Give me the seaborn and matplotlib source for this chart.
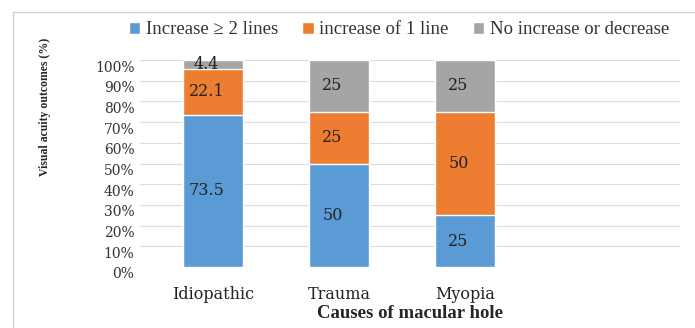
import numpy as np
import pandas as pd
import seaborn as sns
import matplotlib
matplotlib.use("Agg")
import matplotlib.pyplot as plt
import matplotlib.transforms as mtrans
from matplotlib.patches import Rectangle

# data
causes = ["Idiopathic", "Trauma", "Myopia"]
inc_2plus = [73.5, 50, 25]
inc_1 = [22.1, 25, 50]
no_change = [4.4, 25, 25]
series_names = ["Increase \u2265 2 lines", "increase of 1 line", "No increase or decrease"]
yticks = [0, 10, 20, 30, 40, 50, 60, 70, 80, 90, 100]

colors = ["#5B9BD5", "#ED7D31", "#A5A5A5"]

sns.set_theme(style="white")
plt.rcParams['font.family'] = ['DejaVu Serif']

df = pd.DataFrame({"cause": causes, "a": inc_2plus, "b": inc_1, "c": no_change})
df["cum_a"] = df["a"]
df["cum_b"] = df["a"] + df["b"]
df["cum_c"] = df["a"] + df["b"] + df["c"]

fig = plt.figure(figsize=(6.95, 3.28), dpi=100)
ax = fig.add_axes([140 / 695, 61 / 328, 540 / 695, 207 / 328])

# stacked look: draw totals first, then smaller cumulative layers on top
layers = [("cum_c", colors[2], series_names[2]),
          ("cum_b", colors[1], series_names[1]),
          ("cum_a", colors[0], series_names[0])]
for col, c, name in layers:
  sns.barplot(data=df, x="cause", y=col, color=c, width=0.48, ax=ax,
              saturation=1, label=name, zorder=3)
handles, labels = ax.get_legend_handles_labels()
if ax.get_legend() is not None:
  ax.get_legend().remove()

# segment value labels
for i in range(len(causes)):
  segs = [(0, inc_2plus[i]), (inc_2plus[i], inc_1[i]),
          (inc_2plus[i] + inc_1[i], no_change[i])]
  for base, val in segs:
    ax.text(i - 0.05, base + val / 2, "{:g}".format(val), ha="center", va="center",
            fontsize=11.5, color="#222222", zorder=5)

ax.set_xlim(-0.58, 3.71)
ax.set_ylim(0, 100)
ax.set_yticks(yticks)
ax.set_yticklabels(["{}%".format(v) for v in yticks], fontsize=10, color="#333333")
ax.tick_params(axis="x", labelsize=11.5, colors="#222222", length=0, pad=14)
ax.tick_params(axis="y", length=0, pad=4)
# shift y tick labels down a bit, like the perspective of the original
shift = mtrans.ScaledTranslation(0, -6 / 100, fig.dpi_scale_trans)
for lab in ax.get_yticklabels():
  lab.set_transform(lab.get_transform() + shift)
ax.yaxis.grid(True, color="#dcdcdc", linewidth=0.8, zorder=0)
ax.set_axisbelow(True)
for s in ax.spines.values():
  s.set_visible(False)

ax.set_xlabel("Causes of macular hole", fontsize=13.5, fontweight="bold",
              family=["Liberation Serif"], labelpad=1)
ax.set_ylabel("")
fig.text(45 / 695, 1 - 107 / 328, "Visual acuity outcomes (%)", rotation=90,
         ha="center", va="center", fontsize=8.5, fontweight="bold",
         family=["Liberation Serif"])

# legend in original series order
hmap = dict(zip(labels, handles))
leg = fig.legend([hmap[n] for n in series_names], series_names, loc="center left",
                 bbox_to_anchor=(112 / 695, 1 - 30 / 328), ncol=3, frameon=False,
                 handlelength=0.6, handleheight=0.6, handletextpad=0.3,
                 columnspacing=1.3, fontsize=13.5)
for t in leg.get_texts():
  t.set_family(["Liberation Serif", "DejaVu Serif"])
  t.set_color("#333333")

# outer frame like the original figure box
fig.patches.append(Rectangle((13 / 695, -0.05), 1.2, 1 - 12 / 328 + 0.05,
                             transform=fig.transFigure, fill=False,
                             edgecolor="#d0d0d0", linewidth=1))

fig.savefig("out.png", dpi=100)
